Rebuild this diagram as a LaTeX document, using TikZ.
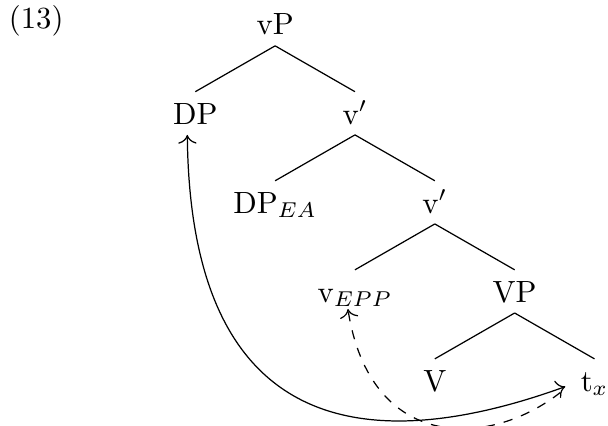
\documentclass[tikz,border=0pt]{standalone}
\usepackage{amsmath, amssymb}
\usepackage{tikz}
\usetikzlibrary{arrows, arrows.meta, positioning}
\tikzset{
    lbl/.style={text height=7pt, text depth=0pt},
    move/.style={<->,>={To[scale=1.15]}},
    epp/.style={->,>={To[scale=1.15]},dashed}
}

\begin{document}
\begin{tikzpicture}[node distance=29pt]
    \useasboundingbox (-89.6pt,7.9pt) rectangle (108.4pt,-130.8pt);

    % Root
    \node (vP) [lbl] at (0,0) {vP};
    \node (ex) [anchor=base] at ([xshift=-77.8pt, yshift=2pt]vP.base) {(13)};

    % Level 1
    \node (DP) [lbl, below of=vP, xshift=-26pt] {DP};
    \node (v1) [lbl, below of=vP, xshift=26pt] {v$'$};

    % Level 2
    \node (DPea) [lbl, below of=v1, xshift=-26pt] {DP$_{EA}$};
    \node (v2) [lbl, below of=v1, xshift=26pt] {v$'$};

    % Level 3
    \node (vepp) [lbl, below of=v2, xshift=-26pt] {v$_{EPP}$};
    \node (VP) [lbl, below of=v2, xshift=26pt] {VP};

    % Level 4
    \node (V) [lbl, below of=VP, xshift=-26pt] {V};
    \node (tx) [lbl, below of=VP, xshift=26pt] {t$_x$};

    % Branches
    \draw (vP.south) -- (DP.north);
    \draw (vP.south) -- (v1.north);
    \draw (v1.south) -- (DPea.north);
    \draw (v1.south) -- (v2.north);
    \draw (v2.south) -- (vepp.north);
    \draw (v2.south) -- (VP.north);
    \draw (VP.south) -- (V.north);
    \draw (VP.south) -- (tx.north);

    % Movement
    \draw [move] ([xshift=-2.6pt]DP.south) .. controls +(1pt,-103.5pt) and +(-58pt,-21pt) .. ([xshift=-1.5pt, yshift=-2pt]tx.west);
    \draw [epp] ([xshift=-3.1pt, yshift=-3.9pt]tx.west) .. controls +(-23.8pt,-18.6pt) and +(7.2pt,-46.2pt) .. ([xshift=-2.3pt, yshift=1.3pt]vepp.south);
\end{tikzpicture}
\end{document}
